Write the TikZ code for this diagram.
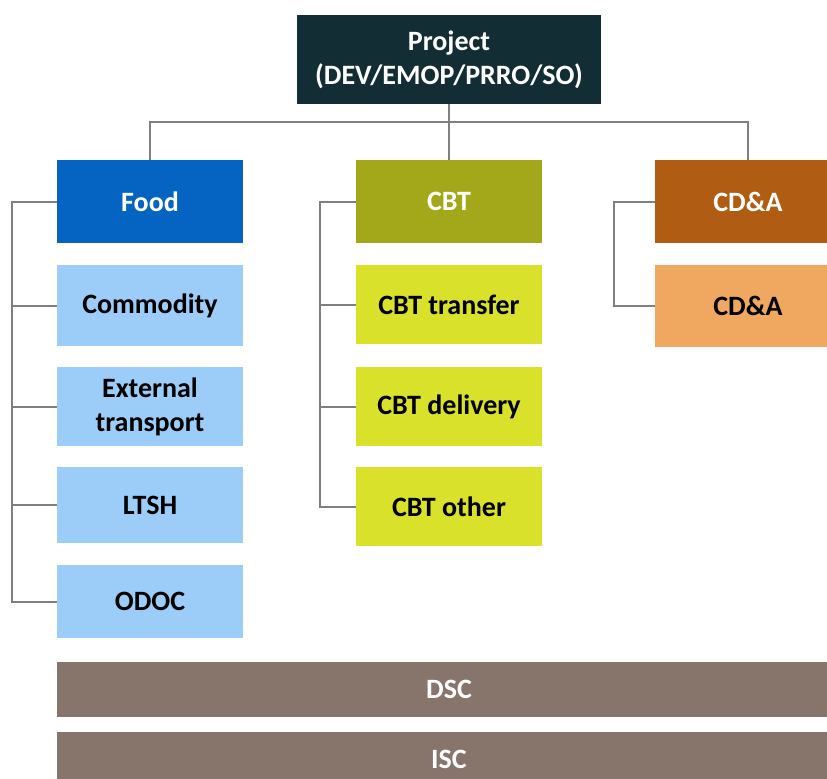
\documentclass[tikz,border=0pt]{standalone}
\usepackage{fontspec}
\setmainfont{Carlito}
\usepackage{tikz}
\usetikzlibrary{positioning, calc}
\definecolor{projcol}{HTML}{132D35}
\definecolor{foodcol}{HTML}{0563C1}
\definecolor{cbtcol}{HTML}{A3A81A}
\definecolor{cdacol}{HTML}{B05C12}
\definecolor{foodsub}{HTML}{9BCDF8}
\definecolor{cbtsub}{HTML}{D9E12A}
\definecolor{cdasub}{HTML}{F0A860}
\definecolor{supcol}{HTML}{87746A}
\definecolor{linkgrey}{HTML}{7F7F7F}

\begin{document}
\begin{tikzpicture}[x=0.75pt, y=-0.75pt, every node/.style={font=\fontsize{21}{25.5}\selectfont\bfseries, align=center, inner sep=0pt}]
			\clip (0,0) rectangle (827,778);
			\tikzstyle{box}=[minimum width=139.5pt, minimum height=62.25pt]
			\tikzstyle{head}=[box, text=white]
			\tikzstyle{link}=[draw=linkgrey, line width=1.5pt]
			
			\node[head, fill=projcol, minimum width=228pt, minimum height=66.75pt](proj) at (449,59.5) {Project\\(DEV/EMOP/PRRO/SO)};
			
			\node[head, fill=foodcol](food) at (150,201.5) {Food};
			\node[head, fill=cbtcol](cbt) at (449,201.5) {CBT};
			\node[head, fill=cdacol](cda) at (748,201.5) {CD\&A};
			
			\node[box, fill=foodsub, minimum height=60.75pt](comm) at (150,305.5) {Commodity};
			\node[box, fill=foodsub, minimum height=59.25pt](ext) at (150,406.5) {External\\transport};
			\node[box, fill=foodsub, minimum height=57pt](ltsh) at (150,505) {LTSH};
			\node[box, fill=foodsub, minimum height=54.75pt](odoc) at (150,601.5) {ODOC};
			
			\node[box, fill=cbtsub, minimum height=59.25pt](cbttr) at (449,304.5) {CBT transfer};
			\node[box, fill=cbtsub, minimum height=59.25pt](cbtdl) at (449,406.5) {CBT delivery};
			\node[box, fill=cbtsub, minimum height=59.25pt](cbtot) at (449,506.5) {CBT other};
			
			\node[box, fill=cdasub, text=black, minimum height=61.5pt](cdasb) at (748,306) {CD\&A};
			
			%% support cost bars across the full width
			\node[box, fill=supcol, minimum width=600pt, minimum height=41.25pt, anchor=north west](dsc) at (57,662) {};
			\node[text=white] at ($(dsc.west)+(392,0)$) {DSC};
			\node[box, fill=supcol, minimum width=600pt, minimum height=41.25pt, anchor=north west](isc) at (57,732) {};
			\node[text=white] at ($(isc.west)+(392,0)$) {ISC};
			
			\draw[link] (proj.south) -- (cbt.north);
			\draw[link] (proj.south) -- ++(0,18) -| (food.north);
			\draw[link] (proj.south) -- ++(0,18) -| (cda.north);
			
			\foreach \n in {comm, ext, ltsh, odoc} \draw[link] (food.west) -- ++(-45,0) |- (\n.west);
			\foreach \n in {cbttr, cbtdl, cbtot} \draw[link] (cbt.west) -- ++(-36,0) |- (\n.west);
			\draw[link] (cda.west) -- ++(-41,0) |- (cdasb.west);
			
\end{tikzpicture}
\end{document}
